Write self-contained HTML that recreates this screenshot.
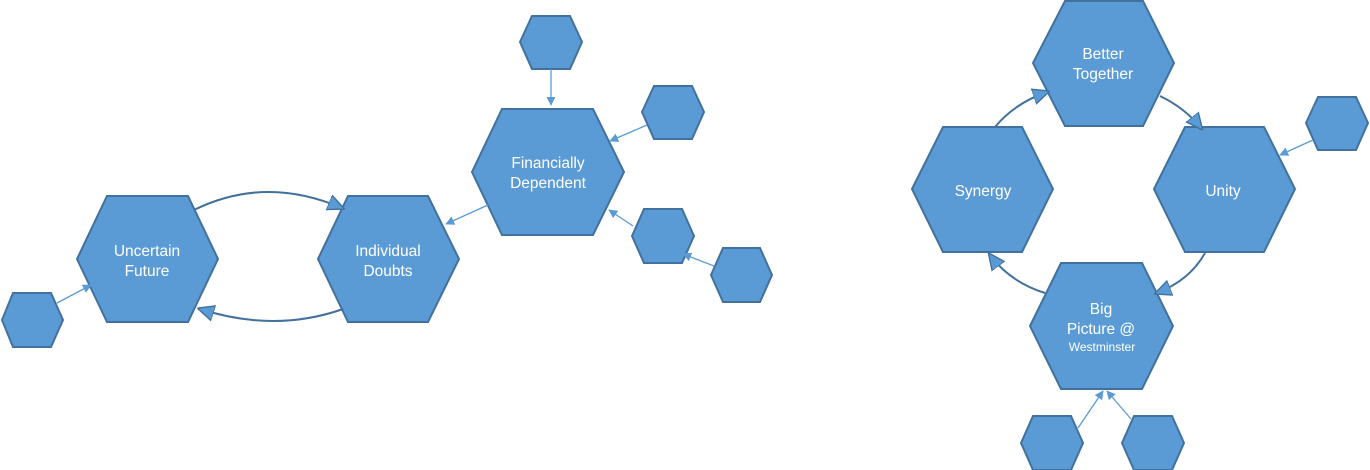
<!DOCTYPE html>
<html><head><meta charset="utf-8"><style>
html,body{margin:0;padding:0;background:#fff;}
svg{display:block;}
text{font-family:"Liberation Sans",Arial,sans-serif;fill:#fff;text-anchor:middle;}
</style></head><body>
<svg width="1370" height="470" viewBox="0 0 1370 470" xmlns="http://www.w3.org/2000/svg">
<defs>
<marker id="big" viewBox="0 0 12 12" refX="10" refY="6" markerWidth="17" markerHeight="17" markerUnits="userSpaceOnUse" orient="auto">
<path d="M0,0.5 L12,6 L0,11.5 Z" fill="#5b9bd5" stroke="#41719c" stroke-width="1"/>
</marker>
<marker id="sm" viewBox="0 0 10 10" refX="9" refY="5" markerWidth="9" markerHeight="9" markerUnits="userSpaceOnUse" orient="auto">
<path d="M0,0 L10,5 L0,10 Z" fill="#5b9bd5"/>
</marker>
</defs>
<g fill="#5b9bd5" stroke="#41719c" stroke-width="2">
<polygon points="77,259 107,196 188,196 218,259 188,322 107,322"/>
<polygon points="318,259 348,196 428,196 459,259 428,322 348,322"/>
<polygon points="472,172 502,109 593,109 624,172 593,235 502,235"/>
<polygon points="1033,63 1065,1 1143,1 1174,63 1143,126 1065,126"/>
<polygon points="912,189 943,127 1022,127 1053,189 1022,252 943,252"/>
<polygon points="1154,189 1185,127 1264,127 1295,189 1264,252 1185,252"/>
<polygon points="1030,326 1061,263 1142,263 1173,326 1142,389 1061,389"/>
<polygon points="2,320 13,293 51,293 63,320 51,347 13,347"/>
<polygon points="520,42 532,16 570,16 582,42 570,69 532,69"/>
<polygon points="642,112 654,86 692,86 704,112 692,139 654,139"/>
<polygon points="632,236 644,209 682,209 694,236 682,263 644,263"/>
<polygon points="711,275 723,248 760,248 772,275 760,302 723,302"/>
<polygon points="1306,123 1318,97 1356,97 1368,123 1356,150 1318,150"/>
<polygon points="1021,443 1033,416 1071,416 1083,443 1071,470 1033,470"/>
<polygon points="1122,443 1134,416 1172,416 1184,443 1172,470 1134,470"/>
</g>
<g fill="none" stroke="#41719c" stroke-width="2">
<path d="M194,210 Q265,175 342,208" marker-end="url(#big)"/>
<path d="M343,309 Q275,333 200,309" marker-end="url(#big)"/>
<path d="M995,127 Q1015,103 1047,92" marker-end="url(#big)"/>
<path d="M1160,96 Q1185,108 1201,128" marker-end="url(#big)"/>
<path d="M1205,253 Q1190,280 1157,293" marker-end="url(#big)"/>
<path d="M1045,293 Q1010,282 990,255" marker-end="url(#big)"/>
</g>
<g fill="none" stroke="#5b9bd5" stroke-width="1.3">
<path d="M551,69 L551,105" marker-end="url(#sm)"/>
<path d="M647,125 L610,141" marker-end="url(#sm)"/>
<path d="M633,226 L609,210" marker-end="url(#sm)"/>
<path d="M714,266 L683,254" marker-end="url(#sm)"/>
<path d="M488,205 L446,224" marker-end="url(#sm)"/>
<path d="M57,303 L91,285" marker-end="url(#sm)"/>
<path d="M1313,140 L1280,155" marker-end="url(#sm)"/>
<path d="M1078,428 L1103,391" marker-end="url(#sm)"/>
<path d="M1131,419 L1107,391" marker-end="url(#sm)"/>
</g>
<g font-size="15.5">
<text x="147" y="256">Uncertain</text><text x="147" y="276">Future</text>
<text x="388" y="256">Individual</text><text x="388" y="276">Doubts</text>
<text x="548" y="168">Financially</text><text x="548" y="188">Dependent</text>
<text x="1103" y="59">Better</text><text x="1103" y="79">Together</text>
<text x="983" y="196">Synergy</text>
<text x="1223" y="196">Unity</text>
<text x="1101" y="314">Big</text><text x="1101" y="334">Picture @</text>
</g>
<text x="1102" y="351" font-size="12">Westminster</text>
</svg>
</body></html>
